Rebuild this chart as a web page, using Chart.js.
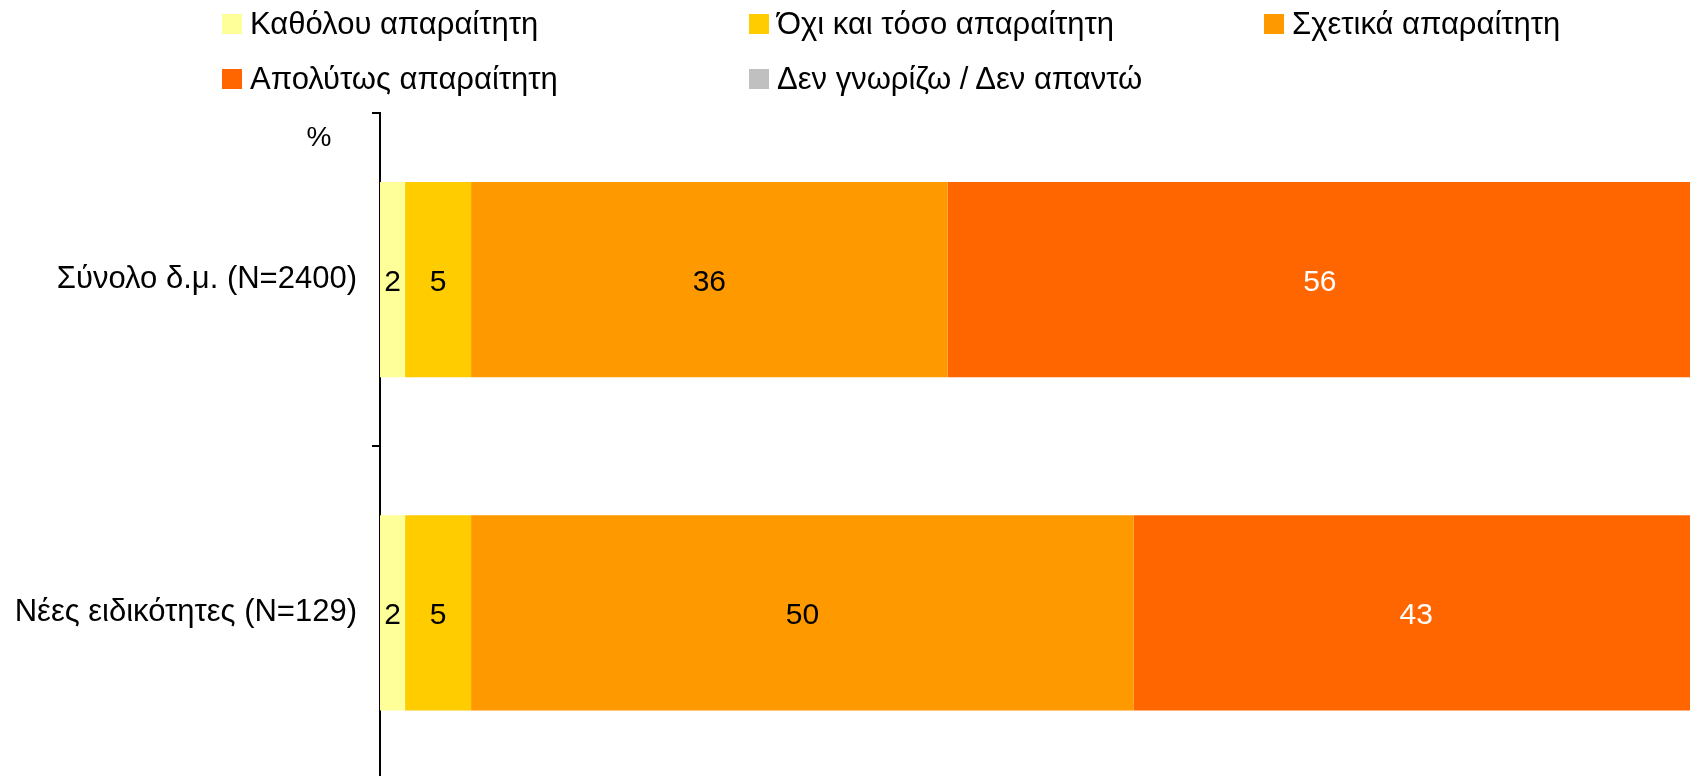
<!DOCTYPE html>
<html>
<head>
<meta charset="utf-8">
<script src="https://cdn.jsdelivr.net/npm/chart.js@4/dist/chart.umd.min.js"></script>
<style>
    html, body { margin: 0; padding: 0; background: #fff; overflow: hidden; }
    #wrap { position: relative; width: 1700px; height: 813px; }
    #legend { position: absolute; left: 222px; top: 0; width: 1468px; font-family: "Liberation Sans", Arial, sans-serif; font-size: 31px; color: #000; }
    .item { position: absolute; display: flex; align-items: center; height: 40px; white-space: nowrap; }
    .box { width: 20px; height: 20px; margin-right: 8px; }
</style>
</head>
<body>
<div id="wrap">
    <canvas id="chart" width="1700" height="813"></canvas>
    <div id="legend"></div>
</div>
<script>
const categories = ['Σύνολο δ.μ. (N=2400)', 'Νέες ειδικότητες (N=129)'];
const seriesNames = ['Καθόλου απαραίτητη', 'Όχι και τόσο απαραίτητη', 'Σχετικά απαραίτητη', 'Απολύτως απαραίτητη', 'Δεν γνωρίζω / Δεν απαντώ'];
const notAtAll = [1.9, 1.9];
const notSo = [5.0, 5.0];
const fairly = [36.1, 50.2];
const absolutely = [56.4, 42.8];
const dontKnow = [0, 0];
const unitLabel = '%';

const colors = ['#FFFF99', '#FFCC00', '#FF9900', '#FF6600', '#C0C0C0'];
const labelColors = ['#000', '#000', '#000', '#fff', '#000'];
const legendLeft = [0, 527, 1042];
const fontFamily = '"Liberation Sans", Arial, sans-serif';

const seriesValues = [notAtAll, notSo, fairly, absolutely, dontKnow];

const barLabels = {
    id: 'barLabels',
    afterDatasetsDraw(chart) {
        const ctx = chart.ctx;
        ctx.save();
        ctx.font = '30px ' + fontFamily;
        ctx.textAlign = 'center';
        ctx.textBaseline = 'middle';
        chart.data.datasets.forEach((ds, i) => {
            const meta = chart.getDatasetMeta(i);
            meta.data.forEach((bar, j) => {
                const v = ds.data[j];
                if (!v) return;
                const p = bar.getCenterPoint();
                ctx.fillStyle = labelColors[i];
                ctx.fillText(Math.round(v), p.x, p.y + 3);
            });
        });
        // unit label above the axis
        ctx.fillStyle = '#000';
        ctx.font = '28px ' + fontFamily;
        ctx.fillText(unitLabel, chart.chartArea.left - 61, chart.chartArea.top + 25);
        ctx.restore();
    }
};

const ctx = document.getElementById('chart').getContext('2d');
const chart = new Chart(ctx, {
    type: 'bar',
    data: {
        labels: categories,
        datasets: seriesNames.map((name, i) => ({
            label: name,
            data: seriesValues[i],
            backgroundColor: colors[i],
            borderWidth: 0,
            categoryPercentage: 1,
            barPercentage: 0.586
        }))
    },
    options: {
        indexAxis: 'y',
        responsive: false,
        maintainAspectRatio: false,
        animation: false,
        layout: { padding: { top: 113, left: 0, right: 0, bottom: 0 } },
        plugins: {
            legend: { display: false },
            tooltip: { enabled: false }
        },
        scales: {
            x: {
                stacked: true,
                display: false,
                min: 0,
                max: 100
            },
            y: {
                stacked: true,
                afterFit: (scale) => { scale.width = 380; },
                border: { display: true, color: '#000', width: 2 },
                grid: { drawOnChartArea: false, tickLength: 8, color: '#000', lineWidth: 2, offset: true },
                ticks: { color: '#000', padding: 15, font: { family: fontFamily, size: 31 } }
            }
        }
    },
    plugins: [barLabels]
});

// legend laid out in three columns like the original
const legend = document.getElementById('legend');
chart.data.datasets.forEach((ds, i) => {
    const item = document.createElement('div');
    item.className = 'item';
    item.style.left = legendLeft[i % 3] + 'px';
    item.style.top = (4 + Math.floor(i / 3) * 55) + 'px';
    item.innerHTML = '<div class="box" style="background:' + ds.backgroundColor + '"></div><span>' + ds.label + '</span>';
    legend.appendChild(item);
});
</script>
</body>
</html>
